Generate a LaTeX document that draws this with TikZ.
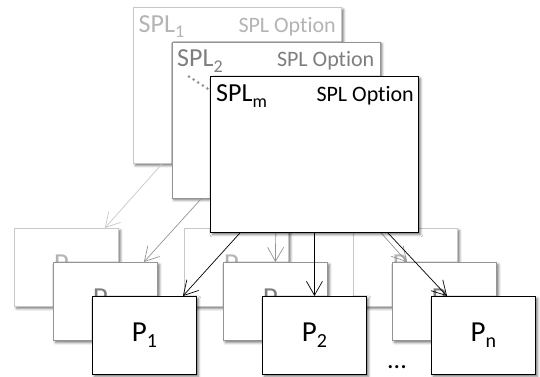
\documentclass[tikz,border=0pt]{standalone}
\usepackage{fontspec}
\setmainfont{Carlito}[Ligatures=NoCommon]
\usetikzlibrary{arrows.meta,shadows.blur,calc}
\definecolor{lt}{HTML}{C8C8C8}
\definecolor{lttext}{HTML}{B4B4B4}
\definecolor{md}{HTML}{949494}
\definecolor{mdtext}{HTML}{7E7E7E}
\newcommand{\Plab}[1]{P\raisebox{-6pt}{\fontsize{20}{20}\selectfont #1}}
\newcommand{\SPLlab}[1]{SPL\raisebox{-5.5pt}{\fontsize{18}{18}\selectfont #1}}
\tikzset{
 box/.style={draw, fill=white, line width=0.9pt, inner sep=0pt,
   blur shadow={shadow xshift=2pt, shadow yshift=-2pt, shadow blur radius=2.5pt, shadow opacity=55}},
 splbox/.style={box, anchor=north west, minimum width=208pt, minimum height=156pt},
 pbox/.style={box, anchor=north west, minimum width=104pt, minimum height=78pt, font=\fontsize{29}{29}\selectfont},
 lay1/.style={draw=lt, text=lttext},
 lay2/.style={draw=md, text=mdtext},
 lay3/.style={draw=black, text=black},
 arr/.style={-{Straight Barb[length=14pt,width=16pt]}, line width=0.7pt},
 spltitle/.style={anchor=base west, inner sep=0pt, font=\fontsize{26}{26}\selectfont},
 optlabel/.style={anchor=base east, inner sep=0pt, font=\fontsize{22}{22}\selectfont},
 dotsl/.style={anchor=base, inner sep=0pt, font=\fontsize{26}{26}\selectfont},
}
\begin{document}
\begin{tikzpicture}[x=1pt,y=-1pt]
\useasboundingbox (0,0) rectangle (540,376);
% ---------- back layer ----------
\node[splbox, lay1] (spl1) at (133,7) {};
\node[spltitle, text=lttext] (spl1t) at (138.5,32) {\SPLlab{1}};
\node[optlabel, text=lttext] (spl1o) at (336,32) {SPL Option};
\node[pbox, lay1] (bp1) at (14,228) {\Plab{1}};
\node[pbox, lay1] (bp2) at (184,228) {\Plab{2}};
\node[pbox, lay1] (bpn) at (353,228) {\Plab{n}};
\draw[arr, lt] ([xshift=29pt]spl1.south west) -- ([xshift=-14pt]bp1.north east);
\draw[arr, lt] (spl1.south) -- (bp2.north);
\draw[arr, lt] ([xshift=-29pt]spl1.south east) -- ([xshift=15pt]bpn.north west);
% ---------- middle layer ----------
\node[splbox, lay2] (spl2) at (171.5,41.5) {};
\node[spltitle, text=mdtext] (spl2t) at (177,66.5) {\SPLlab{2}};
\node[optlabel, text=mdtext] (spl2o) at (374.5,66.5) {SPL Option};
\coordinate (dd1) at (189,76.5);
\coordinate (dd2) at (216,94);
\draw[md, line width=3pt, line cap=round, dash pattern=on 0pt off 5.5pt] (dd1) -- (dd2);
\node[pbox, lay2] (mp1) at (53,262) {\Plab{1}};
\node[pbox, lay2] (mp2) at (223,262) {\Plab{2}};
\node[pbox, lay2] (mpn) at (392,262) {\Plab{n}};
\draw[arr, md] ([xshift=30pt]spl2.south west) -- ([xshift=-14pt]mp1.north east);
\draw[arr, md] (spl2.south) -- (mp2.north);
\draw[arr, md] ([xshift=-30pt]spl2.south east) -- ([xshift=15pt]mpn.north west);
\node[dotsl, text=mdtext] (mdots) at (359,339) {...};
% ---------- front layer ----------
\node[splbox, lay3] (splm) at (210,76) {};
\node[spltitle] (splmt) at (216,101.5) {\SPLlab{m}};
\node[optlabel] (splmo) at (414,101.5) {SPL Option};
\node[pbox, lay3] (p1) at (92,296) {\Plab{1}};
\node[pbox, lay3] (p2) at (262,296) {\Plab{2}};
\node[pbox, lay3] (pn) at (431,296) {\Plab{n}};
\draw[arr] ([xshift=30pt]splm.south west) -- ([xshift=-14pt]p1.north east);
\draw[arr] (splm.south) -- (p2.north);
\draw[arr] ([xshift=-31pt]splm.south east) -- ([xshift=16pt]pn.north west);
\node[dotsl] (fdots) at (397,368) {...};
\end{tikzpicture}
\end{document}
